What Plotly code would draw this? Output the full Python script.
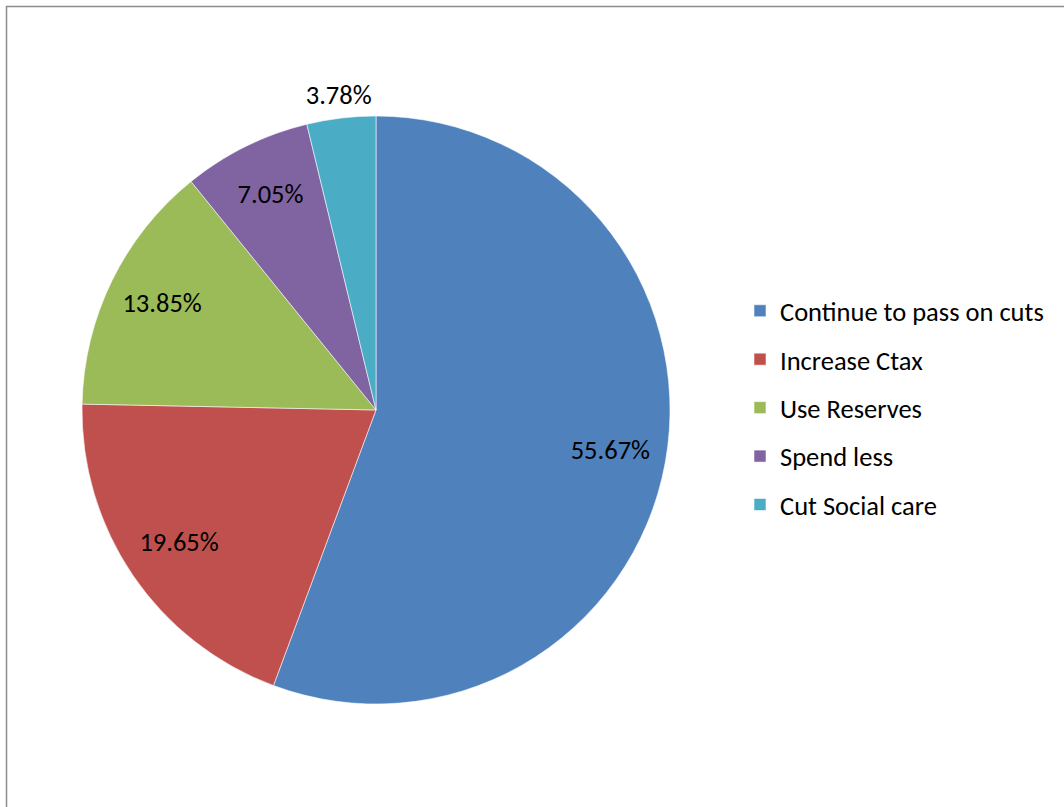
import plotly.graph_objects as go

labels = ["Continue to pass on cuts", "Increase Ctax", "Use Reserves", "Spend less", "Cut Social care"]
values = [55.67, 19.65, 13.85, 7.05, 3.78]
colors = ["#4F81BD", "#C0504D", "#9BBB59", "#8064A2", "#4BACC6"]
label_inside = [True, True, True, True, False]

W, H = 1064, 807
FONT = "Calibri, Carlito, Lato, sans-serif"
FS = 26.5

# pie geometry (pixels, top-left origin)
CX, CY, R = 376, 410, 294
RMAX = 1.2  # radial range, in units of pie radius

total = sum(values)
mid_theta, widths = [], []
acc = 0.0
for v in values:
    mid_theta.append((acc + v / 2) / total * 360.0)
    widths.append(v / total * 360.0)
    acc += v
label_r = [0.81 if ins else 1.07 for ins in label_inside]
label_text = [f"{v / total * 100:.2f}%" for v in values]

fig = go.Figure()

# pie slices drawn as polar wedges (one trace per category for the legend)
for lab, col, th, wd in zip(labels, colors, mid_theta, widths):
    fig.add_trace(go.Barpolar(
        r=[1], theta=[th], width=[wd], name=lab, legendgroup=lab,
        marker=dict(color=col, line=dict(color="rgba(255,255,255,0.7)", width=0.8)),
        hovertemplate=lab + ": %{customdata}<extra></extra>",
        customdata=[label_text[labels.index(lab)]],
    ))

# data labels
fig.add_trace(go.Scatterpolar(
    r=label_r, theta=mid_theta, mode="text", text=label_text,
    textposition="middle center",
    textfont=dict(family=FONT, size=FS, color="black"),
    showlegend=False, hoverinfo="skip", cliponaxis=False,
))

PR = R * RMAX
fig.update_layout(
    width=W, height=H,
    margin=dict(l=0, r=0, t=0, b=0),
    paper_bgcolor="white",
    font=dict(family=FONT, size=FS, color="black"),
    polar=dict(
        domain=dict(x=[(CX - PR) / W, (CX + PR) / W], y=[1 - (CY + PR) / H, 1 - (CY - PR) / H]),
        bgcolor="rgba(0,0,0,0)",
        bargap=0,
        radialaxis=dict(range=[0, RMAX], visible=False),
        angularaxis=dict(rotation=90, direction="clockwise", visible=False),
    ),
    legend=dict(
        x=740 / W, xanchor="left",
        y=1 - 408 / H, yanchor="middle",
        font=dict(family=FONT, size=FS, color="black"),
        tracegroupgap=11,
        bgcolor="rgba(0,0,0,0)",
    ),
    shapes=[dict(
        type="rect", xref="paper", yref="paper",
        x0=6.5 / W, x1=1.2, y0=-0.2, y1=1 - 6.5 / H,
        line=dict(color="#8C8C8C", width=1.5),
        fillcolor="rgba(0,0,0,0)", layer="above",
    )],
)

fig.write_html(
    "out.html",
    config={"displayModeBar": False},
    post_script="document.body.style.margin='0';document.body.style.overflow='hidden';",
)
